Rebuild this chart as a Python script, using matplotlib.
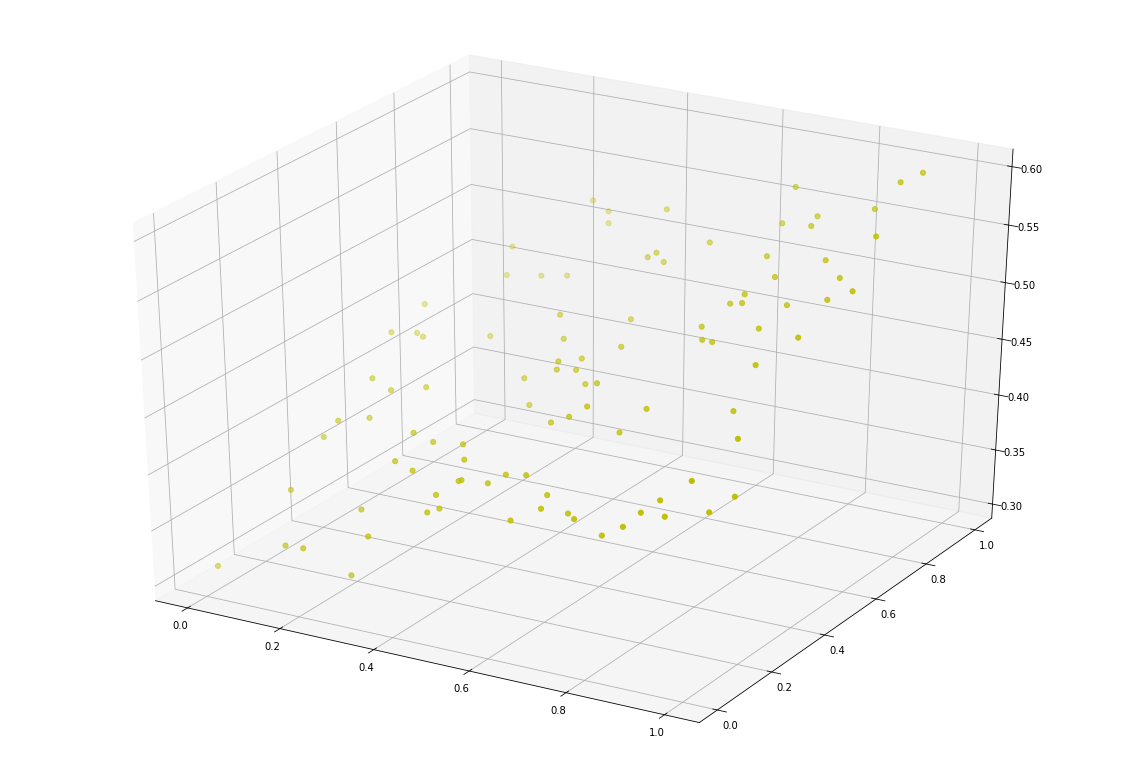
# 3d scatter of 100 points
import matplotlib
matplotlib.use('Agg')
import matplotlib.pyplot as plt

x_values = [.128,.113,.146,.166,.151,.188,.248,.132,.180,.113,.296,.333,.306,.340,.115,.407,.275,.415,.421,.329,
            .176,.214,.027,.315,.514,.661,.921,.401,.428,.433,.447,.490,.502,.555,.573,.606,.622,.667,.690,.756,
            .792,.810,.832,.859,.883,.930,.959,.265,.405,.520,.433,.557,.496,.476,.471,.502,.397,.533,.570,.434,
            .594,.563,.698,.855,.696,.719,.746,.725,.757,.819,.860,.309,.352,.360,.475,.600,.211,.228,.295,.336,
            .505,.522,.534,.709,.925,.947,.880,.779,.792,.712,.953,.742,.859,.912,.785,.971,.756,.919,.838,.917]
y_values = [.573,.479,.515,.503,.349,.353,.378,.259,.290,.238,.254,.261,.173,.177,.119,.147,.104,.103,.135,.039,
            .001,.001,.001,.001,.373,.365,.330,.253,.212,.183,.170,.190,.233,.215,.129,.202,.153,.171,.153,.137,
            .149,.181,.211,.180,.233,.213,.253,.578,.593,.652,.558,.552,.515,.465,.468,.484,.477,.464,.442,.432,
            .365,.354,.397,.433,.600,.561,.549,.652,.638,.588,.503,.879,.862,.848,.862,.800,.751,.701,.713,.737,
            .739,.741,.747,.922,.915,.959,.906,.877,.829,.868,.772,.756,.761,.716,.708,.653,.649,.657,.657,.554]
z_values = [.475,.462,.459,.459,.443,.435,.439,.417,.419,.404,.421,.415,.409,.403,.375,.392,.374,.384,.383,.365,
            .349,.350,.317,.335,.431,.436,.458,.420,.415,.401,.405,.403,.405,.412,.387,.401,.398,.395,.395,.389,
            .398,.407,.415,.408,.433,.413,.423,.457,.485,.482,.471,.475,.465,.468,.460,.460,.445,.453,.460,.431,
            .453,.443,.455,.461,.497,.493,.495,.512,.517,.507,.491,.539,.535,.527,.546,.535,.508,.491,.494,.494,
            .523,.528,.520,.575,.596,.600,.571,.561,.560,.551,.571,.540,.545,.540,.532,.542,.523,.530,.519,.512]
xy_ticks = [0, 0.2, 0.4, 0.6, 0.8, 1.0]
z_ticks = [0.30, 0.35, 0.40, 0.45, 0.50, 0.55, 0.60]

fig = plt.figure(figsize=(1130 / 72, 775 / 72), dpi=72)
ax = fig.add_axes([0, 0, 1, 1], projection='3d')
# old style stretched 3d box, fills the whole figure
ax.apply_aspect = lambda position=None: None
ax.set_box_aspect((1, 1, 1), zoom=0.934)

ax.scatter(x_values, y_values, z_values, c='y', s=26)

ax.set_xlim(-0.07, 1.07)
ax.set_ylim(-0.065, 1.07)
ax.set_zlim(0.2869, 0.6149)
ax.set_xticks(xy_ticks)
ax.set_yticks(xy_ticks)
ax.set_zticks(z_ticks)

fig.savefig('out.png', dpi=72)
